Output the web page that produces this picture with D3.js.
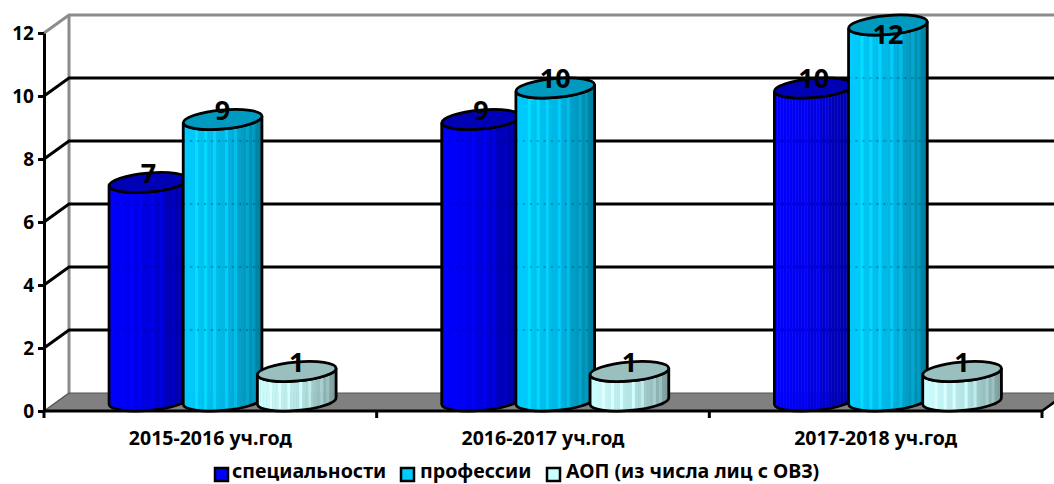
<!DOCTYPE html>
<html>
<head>
<meta charset="utf-8">
<script src="https://cdn.jsdelivr.net/npm/d3@7"></script>
<style>
  html, body { margin: 0; padding: 0; background: #fff; overflow: hidden; }
  text { font-family: "Noto Sans", "Open Sans", sans-serif; font-weight: 700; fill: #000; }
</style>
</head>
<body>
<div id="chart"></div>
<script>
// Data
const categories = ["2015-2016 уч.год", "2016-2017 уч.год", "2017-2018 уч.год"];
const seriesNames = ["специальности", "профессии", "АОП (из числа лиц с ОВЗ)"];
const specialties = [7, 9, 10];
const professions = [9, 10, 12];
const adapted = [1, 1, 1];
const yTicks = [0, 2, 4, 6, 8, 10, 12];

// Constants
const width = 1054, height = 484;
const depthX = 25, depthY = -18;
const barRx = 39.5, barRy = 9.5, tilt = 5 * Math.PI / 180;
const tiltDeg = -5;
const topLift = 8, baseLift = 10;
const palettes = [
    { light: "#0000ff", mid: "#0000d8", dark: "#00008c", top: "#0000b4" },
    { light: "#00ccff", mid: "#00b4e0", dark: "#007896", top: "#0099bf" },
    { light: "#ccffff", mid: "#b4e0e0", dark: "#789696", top: "#99bfbf" }
];

const svg = d3.select("#chart").append("svg")
    .attr("width", width)
    .attr("height", height);

const defs = svg.append("defs");

// Scales
const y = d3.scaleLinear().domain([0, 12]).range([411, 33]);
const x0 = d3.scaleBand().domain(categories).range([44, 1042]);
const x1 = d3.scaleBand().domain(seriesNames).range([-111.5 + 12.5, 111 + 12.5]);

// Back wall
const wall = svg.append("g");
wall.append("path")
    .attr("d", `M${44},${y(12)}L${44 + depthX},${y(12) + depthY}L${width},${y(12) + depthY}`)
    .attr("fill", "none").attr("stroke", "#8c8c8c").attr("stroke-width", 3);
wall.append("line")
    .attr("x1", 44 + depthX).attr("x2", 44 + depthX)
    .attr("y1", y(12) + depthY).attr("y2", y(0) + depthY)
    .attr("stroke", "#8c8c8c").attr("stroke-width", 3);

// Floor
svg.append("path")
    .attr("d", `M44,${y(0)}L${44 + depthX},${y(0) + depthY}L${1042 + depthX},${y(0) + depthY}L1042,${y(0)}Z`)
    .attr("fill", "#808080");

// Gridlines with their side-wall run
yTicks.filter(d => d > 0 && d < 12).forEach(d => {
    svg.append("path")
        .attr("d", `M44,${y(d)}L${44 + depthX},${y(d) + depthY}L${width},${y(d) + depthY}`)
        .attr("fill", "none").attr("stroke", "#000").attr("stroke-width", 3);
});
svg.append("line")
    .attr("x1", 44).attr("y1", y(0))
    .attr("x2", 44 + depthX).attr("y2", y(0) + depthY)
    .attr("stroke", "#555").attr("stroke-width", 1.5);
svg.append("line")
    .attr("x1", 44 + depthX).attr("y1", y(0) + depthY)
    .attr("x2", width).attr("y2", y(0) + depthY)
    .attr("stroke", "#555").attr("stroke-width", 1);

// Axes
const yAxis = svg.append("g")
    .attr("transform", "translate(44,0)")
    .call(d3.axisLeft(y).tickValues(yTicks).tickSize(6).tickPadding(4).tickSizeOuter(0));
yAxis.selectAll("path, line").attr("stroke", "#000").attr("stroke-width", 3);
yAxis.selectAll("text").style("font-size", "19px").attr("fill", "#000");

const xAxis = svg.append("g")
    .attr("transform", `translate(0,${y(0)})`)
    .call(d3.axisBottom(x0).tickSize(0).tickPadding(20));
xAxis.select("path").attr("stroke", "#000").attr("stroke-width", 3).attr("d", "M43,0H1042");
xAxis.selectAll("text").style("font-size", "19.5px").attr("fill", "#000");

const edges = categories.map(c => x0(c)).concat(x0(categories[2]) + x0.bandwidth());
xAxis.selectAll("line.edge").data(edges).join("line")
    .attr("class", "edge")
    .attr("x1", d => d).attr("x2", d => d)
    .attr("y1", 0).attr("y2", 7)
    .attr("stroke", "#000").attr("stroke-width", 3);
svg.append("line")
    .attr("x1", 1042).attr("y1", y(0))
    .attr("x2", 1042 + depthX).attr("y2", y(0) + depthY)
    .attr("stroke", "#000").attr("stroke-width", 2.5);

// Cylinders
function drawCylinder(cx, value, palette, id) {
    const cTop = y(value) - topLift;
    const cBase = y(0) - baseLift;
    const dx = barRx * Math.cos(tilt), dy = barRx * Math.sin(tilt);
    const outline = `M${cx - dx},${cTop + dy}L${cx - dx},${cBase + dy}` +
        `A${barRx},${barRy} ${tiltDeg} 0 0 ${cx + dx},${cBase - dy}` +
        `L${cx + dx},${cTop - dy}` +
        `A${barRx},${barRy} ${tiltDeg} 0 1 ${cx - dx},${cTop + dy}Z`;

    defs.append("clipPath").attr("id", id).append("path").attr("d", outline);

    const shade = d3.scaleLinear()
        .domain([0, 0.55, 1])
        .range([palette.light, palette.mid, palette.dark]);

    // Vertical bands approximate the stepped gradient of the original
    const bar = svg.append("g");
    const inner = bar.append("g").attr("clip-path", `url(#${id})`);
    const sliceW = 3;
    const slices = d3.range(0, barRx * 2, sliceW);
    inner.selectAll("rect").data(slices).join("rect")
        .attr("x", d => cx - barRx + d)
        .attr("y", cTop - barRy - 4)
        .attr("width", sliceW + 0.5)
        .attr("height", cBase - cTop + barRy * 2 + 12)
        .attr("fill", (d, i) => {
            const c = d3.color(shade(d / (barRx * 2)));
            return [4, 7, 10, 14, 17, 21, 23].includes(i) ? c.brighter(0.35) : c;
        });

    // Gridlines show faintly through the original's cylinders
    inner.selectAll("line").data(yTicks.filter(d => d < value && d > 0)).join("line")
        .attr("x1", cx - barRx).attr("x2", cx + barRx)
        .attr("y1", d => y(d) + depthY).attr("y2", d => y(d) + depthY)
        .attr("stroke", "#000").attr("stroke-opacity", 0.22)
        .attr("stroke-width", 2).attr("stroke-dasharray", "2 5");

    bar.append("path").attr("d", outline)
        .attr("fill", "none").attr("stroke", "#000").attr("stroke-width", 2.8);
    bar.append("ellipse")
        .attr("rx", barRx).attr("ry", barRy)
        .attr("transform", `translate(${cx},${cTop}) rotate(${tiltDeg})`)
        .attr("fill", palette.top).attr("stroke", "#000").attr("stroke-width", 2.8);
}

const seriesValues = [specialties, professions, adapted];
seriesNames.forEach((name, s) => {
    categories.forEach((cat, i) => {
        const cx = x0(cat) + x0.bandwidth() / 2 + x1(name) + x1.bandwidth() / 2;
        drawCylinder(cx, seriesValues[s][i], palettes[s], `bar-${s}-${i}`);
    });
});

// Data labels sit on top of the cylinders
seriesNames.forEach((name, s) => {
    categories.forEach((cat, i) => {
        const cx = x0(cat) + x0.bandwidth() / 2 + x1(name) + x1.bandwidth() / 2;
        const v = seriesValues[s][i];
        svg.append("text")
            .attr("x", cx)
            .attr("y", Math.max(y(v) - 8, 44))
            .attr("text-anchor", "middle")
            .style("font-size", "27px")
            .text(v);
    });
});

// Legend
const legendX = [214, 400, 546];
seriesNames.forEach((name, s) => {
    const g = svg.append("g").attr("transform", `translate(${legendX[s]},467)`);
    g.append("rect")
        .attr("x", 1).attr("y", 1)
        .attr("width", 13).attr("height", 13)
        .attr("fill", palettes[s].light)
        .attr("stroke", "#000").attr("stroke-width", 2.5);
    g.append("text")
        .attr("x", 18 + (s ? 2 : 0)).attr("y", 11)
        .style("font-size", "19.6px")
        .text(name);
});
</script>
</body>
</html>
